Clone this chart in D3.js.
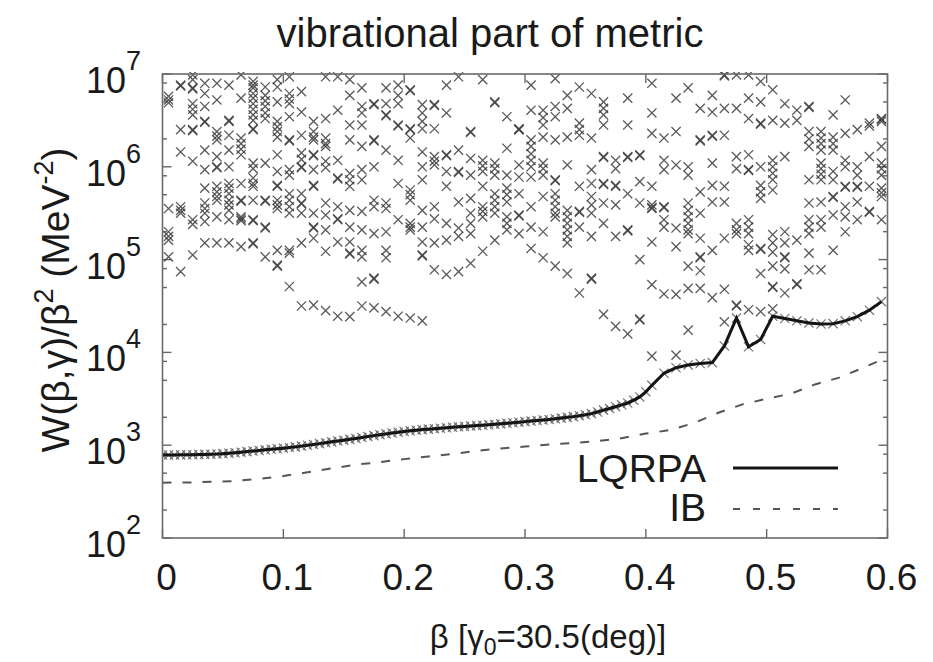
<!DOCTYPE html>
<html><head><meta charset="utf-8">
<script src="https://cdn.jsdelivr.net/npm/d3@7"></script>
<style>
body{margin:0;background:#fff}
svg{display:block}
text{font-family:"Liberation Sans",Arial,sans-serif;fill:#1a1a1a}
</style>
</head><body>
<svg id="c" width="933" height="662"></svg>
<script>
// ---------- data ----------
const xTickValues = [0, 0.1, 0.2, 0.3, 0.4, 0.5, 0.6];
const xTickLabels = ["0", "0.1", "0.2", "0.3", "0.4", "0.5", "0.6"];
const yTickExponents = [2, 3, 4, 5, 6, 7];
const yMinorMultipliers = [2, 5, 8];

const lqrpaBeta = [0,0.005,0.01,0.015,0.02,0.025,0.03,0.035,0.04,0.045,0.05,0.055,0.06,0.065,0.07,0.075,0.08,0.085,0.09,0.095,
  0.1,0.105,0.11,0.115,0.12,0.125,0.13,0.135,0.14,0.145,0.15,0.155,0.16,0.165,0.17,0.175,0.18,0.185,0.19,0.195,
  0.2,0.205,0.21,0.215,0.22,0.225,0.23,0.235,0.24,0.245,0.25,0.255,0.26,0.265,0.27,0.275,0.28,0.285,0.29,0.295,
  0.3,0.305,0.31,0.315,0.32,0.325,0.33,0.335,0.34,0.345,0.35,0.355,0.36,0.365,0.37,0.375,0.38,0.385,0.39,0.395,
  0.4,0.405,0.415,0.425,0.435,0.445,0.455,0.465,0.475,0.485,0.495,0.505,0.515,0.525,0.535,0.545,0.555,0.565,0.575,0.585,0.595];
const lqrpaLog10 = [2.894,2.894,2.895,2.896,2.897,2.898,2.900,2.901,2.903,2.905,2.909,2.914,2.919,2.925,2.931,2.937,2.943,2.950,2.956,2.962,
  2.968,2.975,2.982,2.990,2.999,3.008,3.017,3.027,3.036,3.045,3.054,3.063,3.073,3.083,3.093,3.103,3.112,3.122,3.131,3.140,
  3.148,3.155,3.162,3.168,3.173,3.178,3.183,3.188,3.193,3.198,3.202,3.206,3.211,3.215,3.220,3.225,3.230,3.236,3.242,3.248,
  3.254,3.260,3.266,3.272,3.278,3.285,3.292,3.300,3.308,3.318,3.328,3.340,3.358,3.378,3.396,3.415,3.435,3.455,3.485,3.520,
  3.575,3.645,3.775,3.835,3.865,3.880,3.890,4.070,4.370,4.060,4.140,4.390,4.365,4.340,4.318,4.306,4.310,4.340,4.385,4.455,4.547];

const ibBeta = [0,0.02,0.04,0.06,0.08,0.1,0.12,0.14,0.16,0.18,0.2,0.22,0.24,0.26,0.28,0.3,0.32,0.34,0.36,0.38,
  0.4,0.42,0.44,0.46,0.48,0.5,0.52,0.54,0.56,0.58,0.595];
const ibLog10 = [2.596,2.598,2.605,2.614,2.638,2.668,2.708,2.750,2.790,2.818,2.850,2.878,2.905,2.940,2.965,2.985,3.008,3.023,3.045,3.076,
  3.125,3.163,3.240,3.350,3.440,3.500,3.555,3.655,3.728,3.835,3.920];

const scatterBeta = [0.005,0.015,0.025,0.035,0.045,0.055,0.065,0.075,0.085,0.095,0.105,0.115,0.125,0.135,0.145,0.155,0.165,0.175,0.185,0.195,
  0.205,0.215,0.225,0.235,0.245,0.255,0.265,0.275,0.285,0.295,0.305,0.315,0.325,0.335,0.345,0.355,0.365,0.375,0.385,0.395,
  0.405,0.415,0.425,0.435,0.445,0.455,0.465,0.475,0.485,0.495,0.505,0.515,0.525,0.535,0.545,0.555,0.565,0.575,0.585,0.595];
const scatterLog10 = [
  [6.76,6.72,6.69,5.55,5.30,5.25,5.21,5.03],
  [6.88,6.87,6.40,6.16,5.57,5.53,5.50,4.87],
  [6.99,6.94,6.85,6.84,6.68,6.62,6.56,6.40,6.39,6.06,5.43,5.38,5.05],
  [6.90,6.79,6.65,6.49,6.48,6.18,5.97,5.77,5.61,5.55,5.50,5.41,5.18],
  [6.90,6.72,6.38,6.33,6.29,6.11,6.00,5.99,5.79,5.73,5.68,5.64,5.46,5.18],
  [6.88,6.50,6.49,6.34,6.18,6.00,5.82,5.77,5.71,5.64,5.59,5.53,5.43,5.18],
  [6.99,6.74,6.31,6.25,6.19,6.13,5.82,5.64,5.63,5.46,5.44,5.42,5.14],
  [6.92,6.88,6.85,6.79,6.74,6.68,6.62,6.56,6.50,6.41,6.40,6.04,5.98,5.88,5.82,5.79,5.64,5.43,5.42,5.18,5.17],
  [6.86,6.77,6.71,6.65,6.58,6.52,6.04,5.64,5.63,5.35,5.34,5.03],
  [6.94,6.86,6.70,6.49,6.43,6.38,6.32,6.13,5.95,5.80,5.79,5.64,5.59,5.55,5.10,4.94,4.93],
  [6.97,6.79,6.73,6.68,6.54,6.29,6.28,5.97,5.91,5.71,5.64,5.57,5.50,5.10,5.07,4.71],
  [6.81,6.59,6.34,6.15,6.08,6.00,5.99,5.71,5.61,5.60,5.50,5.18,4.50],
  [6.49,6.38,6.32,6.29,6.13,6.12,5.97,5.80,5.79,5.50,5.35,5.34,5.23,4.51],
  [6.97,6.52,6.31,6.25,6.22,6.06,5.99,5.61,5.48,5.32,5.09,4.45],
  [6.97,6.61,6.07,5.88,5.87,5.57,5.44,5.43,5.19,4.39],
  [6.94,6.77,6.45,6.29,5.93,5.86,5.79,5.53,5.35,5.19,5.07,5.06,4.385],
  [6.85,6.65,6.58,6.45,6.22,5.97,5.86,5.52,5.32,5.10,5.03,4.76,4.50],
  [6.68,6.67,6.29,6.28,6.00,5.64,5.57,5.28,4.80,4.79,4.48],
  [6.85,6.68,6.56,6.55,6.18,5.61,5.55,5.30,5.10,5.02,4.44],
  [6.88,6.77,6.68,6.45,6.44,6.07,5.82,5.43,4.39],
  [6.83,6.82,6.41,6.40,6.31,5.75,5.70,5.64,5.39,5.35,5.32,4.37],
  [6.67,6.58,6.49,6.41,6.16,6.00,5.86,5.53,5.35,5.19,5.05,5.04,4.34],
  [6.67,6.66,6.41,6.11,6.06,6.02,5.57,5.44,5.18,4.89],
  [6.88,6.58,6.13,6.12,5.95,5.79,5.39,5.21,4.84],
  [6.97,6.18,5.95,5.94,5.62,5.34,5.25,4.87],
  [6.38,6.37,6.09,5.91,5.66,5.50,5.39,5.28,4.96],
  [6.94,6.07,6.01,5.95,5.79,5.57,5.52,5.46,5.09],
  [6.70,6.69,6.04,5.98,5.91,5.71,5.64,5.57,5.50,5.21],
  [6.54,6.20,5.91,5.77,5.70,5.62,5.46,5.39,5.32],
  [6.41,6.40,6.40,6.02,5.89,5.71,5.48,5.47,5.28],
  [6.88,6.61,6.29,6.22,6.14,6.07,6.00,5.89,5.57,5.35,5.12],
  [6.61,6.53,6.45,6.32,6.04,5.98,5.91,5.68,5.30,5.02],
  [6.95,6.65,6.54,6.29,5.86,5.85,5.71,5.64,5.57,5.50,5.46,4.93],
  [6.77,6.63,6.32,6.02,5.53,5.46,5.39,5.32,5.25,5.18,4.85],
  [6.86,6.47,6.40,6.34,5.79,5.52,5.51,5.35,4.64],
  [6.79,6.31,5.97,5.82,5.68,5.59,5.50,5.25,4.80,4.79],
  [6.70,6.63,6.56,6.45,6.11,6.10,5.82,5.81,5.61,5.39,4.41],
  [6.07,5.98,5.80,5.79,5.59,5.25,4.28],
  [6.74,6.45,6.11,6.10,5.71,5.32,5.31,4.20],
  [6.13,6.12,5.84,5.61,5.00,4.36,4.35],
  [6.90,6.58,6.36,5.79,5.59,5.56,5.55,5.19,4.73,3.96],
  [6.31,6.07,5.97,5.57,5.56,5.43,5.35,4.63],
  [6.74,6.38,6.02,5.34,5.14,4.625,3.97],
  [6.85,6.00,5.91,5.61,5.53,5.46,5.39,5.32,5.28,4.93,4.69,4.24],
  [6.63,6.29,6.28,5.73,5.50,5.23,5.03,5.02,4.88,4.69],
  [6.77,6.59,6.34,6.33,6.04,5.80,5.62,5.10,4.59],
  [6.99,6.98,6.63,6.34,5.79,5.62,5.23,4.68,4.33],
  [6.99,6.63,6.11,5.98,5.39,5.32,5.28,4.51,4.50],
  [6.99,6.74,6.52,6.13,5.97,5.96,5.43,5.35,5.28,5.16,5.10,4.46],
  [6.92,6.70,6.47,6.46,6.00,5.80,5.73,5.66,5.12,5.11,4.85,4.44],
  [6.83,6.50,6.07,6.00,5.93,5.86,5.75,5.27,5.18,5.08,4.93,4.71,4.70,4.47],
  [6.68,6.47,6.11,5.30,5.18,5.03,5.02,4.90,4.64],
  [6.61,6.50,5.21,4.74,4.73],
  [6.65,6.64,6.38,6.30,6.22,5.86,5.61,5.43,5.35,5.28,5.07,4.89],
  [6.38,6.31,6.25,6.18,6.04,5.98,5.92,5.86,5.62,5.43,5.35,4.89],
  [6.56,6.32,6.25,6.18,5.95,5.86,5.68,5.67,5.48,5.10],
  [6.72,6.36,6.07,6.00,5.79,5.78,5.57,5.46,5.30],
  [6.40,6.00,5.91,5.79,5.78,5.62,5.43],
  [6.47,6.44,6.11,5.79,5.52,5.51],
  [6.52,6.51,6.49,6.22,6.04,5.98,5.91,5.77,5.72,5.68,5.43]
];

const titleText = "vibrational part of metric";
const legendNames = ["LQRPA", "IB"];

// ---------- layout ----------
const L = 162.5, R = 887.5, T = 74, B = 538;
const svg = d3.select("#c");
const x = d3.scaleLinear().domain([0, 0.6]).range([L, R]);
const y = d3.scaleLog().domain([1e2, 1e7]).range([B, T]);
const p10 = v => Math.pow(10, v);

svg.append("defs").append("clipPath").attr("id", "clip")
  .append("rect").attr("x", L).attr("y", T - 2).attr("width", R - L).attr("height", B - T + 2);

// title
svg.append("text").attr("x", 490).attr("y", 47).attr("text-anchor", "middle")
  .attr("font-size", 40).text(titleText);

// ticks
const tickG = svg.append("g").attr("stroke", "#666").attr("stroke-width", 1.4);
xTickValues.forEach(t => {
  tickG.append("line").attr("x1", x(t)).attr("x2", x(t)).attr("y1", B).attr("y2", B - 9);
  tickG.append("line").attr("x1", x(t)).attr("x2", x(t)).attr("y1", T).attr("y2", T + 9);
});
yTickExponents.forEach(e => {
  const v = p10(e);
  tickG.append("line").attr("x1", L).attr("x2", L + 9).attr("y1", y(v)).attr("y2", y(v));
  tickG.append("line").attr("x1", R).attr("x2", R - 9).attr("y1", y(v)).attr("y2", y(v));
  if (e < 7) yMinorMultipliers.forEach(m => {
    const w = m * v;
    tickG.append("line").attr("x1", L).attr("x2", L + 4.5).attr("y1", y(w)).attr("y2", y(w));
    tickG.append("line").attr("x1", R).attr("x2", R - 4.5).attr("y1", y(w)).attr("y2", y(w));
  });
});

// tick labels
xTickValues.forEach((t, i) => {
  svg.append("text").attr("x", x(t) + 4).attr("y", 590).attr("text-anchor", "middle")
    .attr("font-size", 37).text(xTickLabels[i]);
});
yTickExponents.forEach(e => {
  const yy = y(p10(e));
  const tx = svg.append("text").attr("x", 141).attr("y", yy + 19).attr("text-anchor", "end").attr("font-size", 36);
  tx.append("tspan").text("10");
  tx.append("tspan").attr("font-size", 27).attr("dy", -23).text(String(e));
});

// scatter markers
const plot = svg.append("g").attr("clip-path", "url(#clip)");
const cross = "M-4.6,-4.6L4.6,4.6M-4.6,4.6L4.6,-4.6";
const pts = [];
scatterLog10.forEach((col, k) => col.forEach(v => pts.push([scatterBeta[k], v])));
plot.append("g").selectAll("path").data(pts).join("path")
  .attr("d", cross).attr("transform", d => `translate(${x(d[0])},${y(p10(d[1]))})`)
  .attr("fill", "none").attr("stroke", "#3c3c3c").attr("stroke-width", 1.3).attr("stroke-opacity", 0.85);

// LQRPA markers
const lq = lqrpaBeta.map((b, i) => [b, lqrpaLog10[i]]);
plot.append("g").selectAll("path").data(lq).join("path")
  .attr("d", cross).attr("transform", d => `translate(${x(d[0])},${y(p10(d[1]))})`)
  .attr("fill", "none").attr("stroke", "#555").attr("stroke-width", 1.2).attr("stroke-opacity", 0.8);

// IB dashed
const ib = ibBeta.map((b, i) => [b, ibLog10[i]]);
const line = d3.line().x(d => x(d[0])).y(d => y(p10(d[1])));
plot.append("path").attr("d", line(ib)).attr("fill", "none")
  .attr("stroke", "#555").attr("stroke-width", 2).attr("stroke-dasharray", "9,11");

// LQRPA line
plot.append("path").attr("d", line(lq)).attr("fill", "none")
  .attr("stroke", "#141414").attr("stroke-width", 3).attr("stroke-linejoin", "miter");

// frame
svg.append("rect").attr("x", L).attr("y", T).attr("width", R - L).attr("height", B - T)
  .attr("fill", "none").attr("stroke", "#6a6a6a").attr("stroke-width", 1.6);

// legend
svg.append("text").attr("x", 706).attr("y", 482).attr("text-anchor", "end").attr("font-size", 39).text(legendNames[0]);
svg.append("text").attr("x", 706).attr("y", 521).attr("text-anchor", "end").attr("font-size", 39).text(legendNames[1]);
svg.append("line").attr("x1", 733).attr("x2", 838).attr("y1", 468).attr("y2", 468)
  .attr("stroke", "#141414").attr("stroke-width", 3);
svg.append("line").attr("x1", 733).attr("x2", 838).attr("y1", 509).attr("y2", 509)
  .attr("stroke", "#555").attr("stroke-width", 2).attr("stroke-dasharray", "7,13");

// axis titles
const xt = svg.append("text").attr("x", 548).attr("y", 648).attr("text-anchor", "middle").attr("font-size", 33);
xt.append("tspan").text("β [γ");
xt.append("tspan").attr("font-size", 23).attr("dy", 7).text("0");
xt.append("tspan").attr("dy", -7).text("=30.5(deg)]");

const yt = svg.append("text").attr("transform", "translate(69,300) rotate(-90)")
  .attr("text-anchor", "middle").attr("font-size", 39);
yt.append("tspan").text("W(β,γ)/β");
yt.append("tspan").attr("font-size", 27).attr("dy", -16).text("2");
yt.append("tspan").attr("dy", 16).text(" (MeV");
yt.append("tspan").attr("font-size", 27).attr("dy", -16).text("-2");
yt.append("tspan").attr("dy", 16).text(")");
</script>
</body></html>
